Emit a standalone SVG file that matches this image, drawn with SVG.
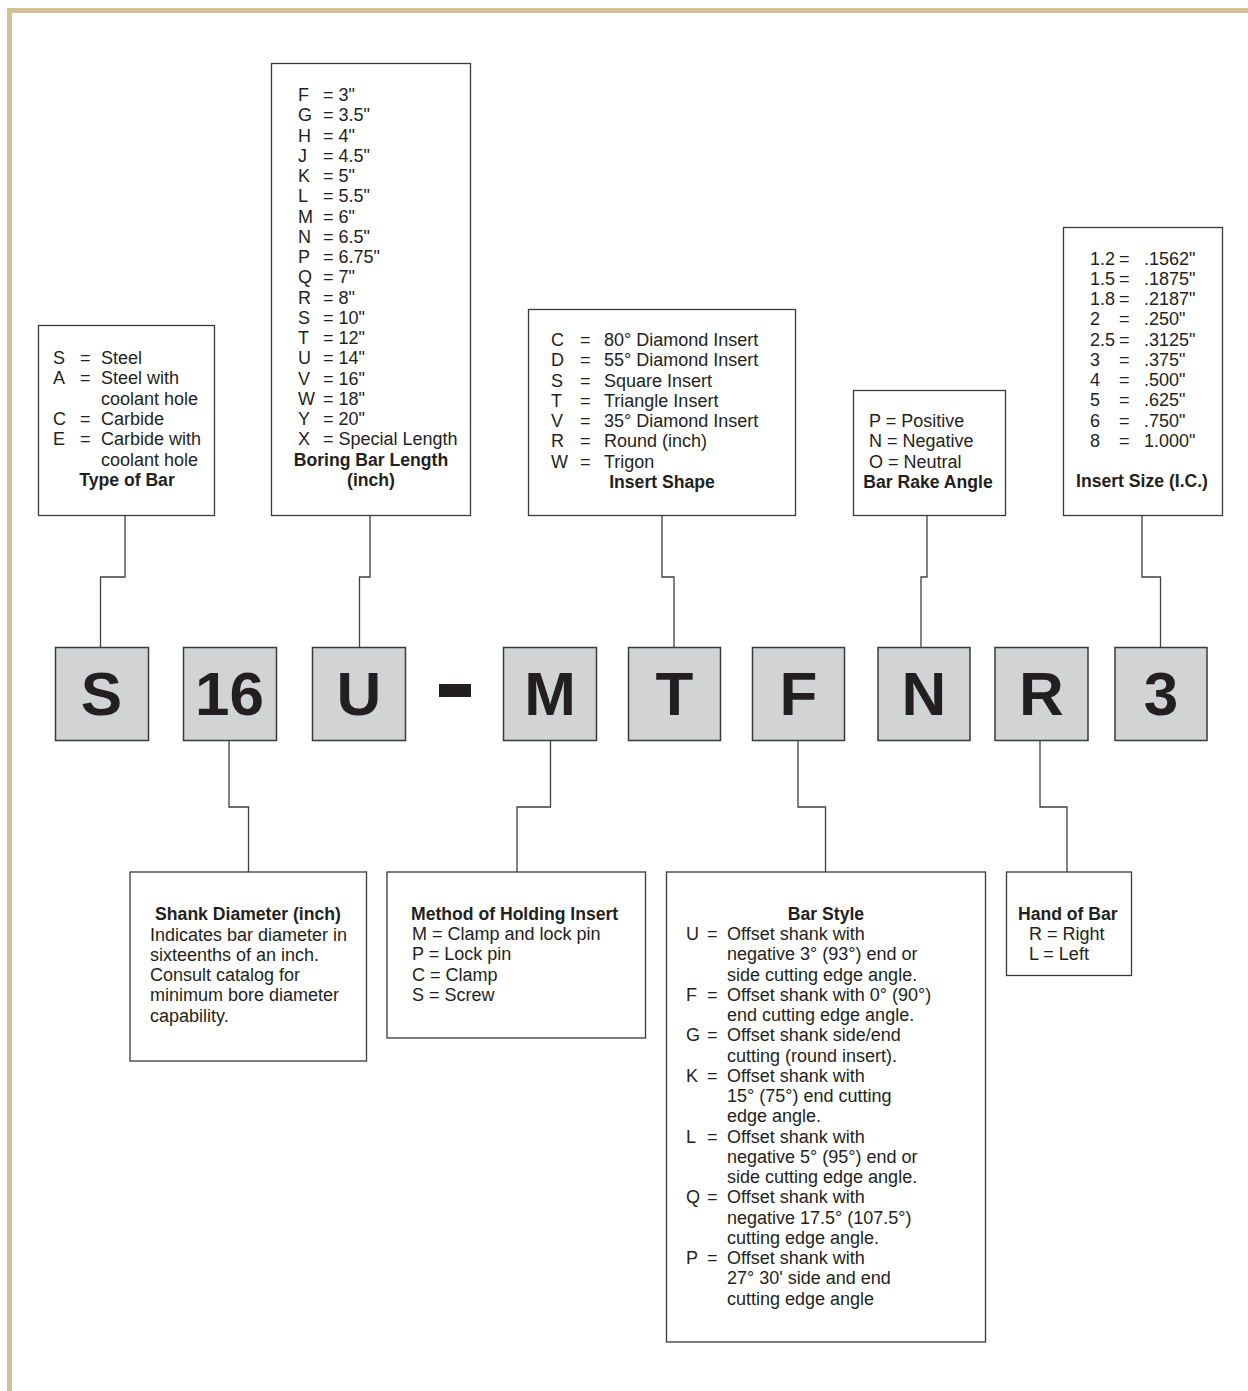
<svg xmlns="http://www.w3.org/2000/svg" width="1248" height="1391" viewBox="0 0 1248 1391">
<style>
text{font-family:"Liberation Sans",Arial,Helvetica,sans-serif;fill:#231f20}
.t{font-size:18px}
.b{font-size:17.6px;font-weight:bold}
.c{text-anchor:middle}
.box{fill:#fff;stroke:#3a3a3a;stroke-width:1.3}
.code{fill:#d1d3d4;stroke:#3a3a3a;stroke-width:1.5}
.big{font-size:62px;font-weight:bold;text-anchor:middle}
.ln{fill:none;stroke:#3f3f3f;stroke-width:1.3}
</style>
<rect x="0" y="0" width="1248" height="1391" fill="#fff"/>
<rect x="7" y="8" width="1241" height="5" fill="#d3c195"/>
<rect x="7" y="8" width="5" height="1383" fill="#d3c195"/>

<g id="connectors">
<polyline class="ln" points="125,515 125,577 100.5,577 100.5,647"/>
<polyline class="ln" points="370,515 370,577 359.5,577 359.5,647"/>
<polyline class="ln" points="662,515 662,577 674,577 674,647"/>
<polyline class="ln" points="927,515 927,577 921,577 921,647"/>
<polyline class="ln" points="1142,515 1142,577 1160.5,577 1160.5,647"/>
<polyline class="ln" points="229,740 229,807 248.5,807 248.5,872"/>
<polyline class="ln" points="550.5,740 550.5,807 517,807 517,872"/>
<polyline class="ln" points="798,740 798,807 825.5,807 825.5,872"/>
<polyline class="ln" points="1040,740 1040,807 1067,807 1067,872"/>
</g>

<g id="type-of-bar">
<rect class="box" x="38.5" y="325.5" width="176" height="190"/>
<text class="t" x="53" y="364">S</text><text class="t" x="80" y="364">=</text><text class="t" x="101" y="364">Steel</text>
<text class="t" x="53" y="384.3">A</text><text class="t" x="80" y="384.3">=</text><text class="t" x="101" y="384.3">Steel with</text>
<text class="t" x="101" y="404.6">coolant hole</text>
<text class="t" x="53" y="424.9">C</text><text class="t" x="80" y="424.9">=</text><text class="t" x="101" y="424.9">Carbide</text>
<text class="t" x="53" y="445.2">E</text><text class="t" x="80" y="445.2">=</text><text class="t" x="101" y="445.2">Carbide with</text>
<text class="t" x="101" y="465.5">coolant hole</text>
<text class="b c" x="127" y="485.8">Type of Bar</text>
</g>

<g id="boring-bar-length">
<rect class="box" x="271.5" y="63.5" width="199" height="452"/>
<text class="t" x="298" y="101">F</text><text class="t" x="323" y="101">= 3"</text>
<text class="t" x="298" y="121.25">G</text><text class="t" x="323" y="121.25">= 3.5"</text>
<text class="t" x="298" y="141.5">H</text><text class="t" x="323" y="141.5">= 4"</text>
<text class="t" x="298" y="161.75">J</text><text class="t" x="323" y="161.75">= 4.5"</text>
<text class="t" x="298" y="182">K</text><text class="t" x="323" y="182">= 5"</text>
<text class="t" x="298" y="202.25">L</text><text class="t" x="323" y="202.25">= 5.5"</text>
<text class="t" x="298" y="222.5">M</text><text class="t" x="323" y="222.5">= 6"</text>
<text class="t" x="298" y="242.75">N</text><text class="t" x="323" y="242.75">= 6.5"</text>
<text class="t" x="298" y="263">P</text><text class="t" x="323" y="263">= 6.75"</text>
<text class="t" x="298" y="283.25">Q</text><text class="t" x="323" y="283.25">= 7"</text>
<text class="t" x="298" y="303.5">R</text><text class="t" x="323" y="303.5">= 8"</text>
<text class="t" x="298" y="323.75">S</text><text class="t" x="323" y="323.75">= 10"</text>
<text class="t" x="298" y="344">T</text><text class="t" x="323" y="344">= 12"</text>
<text class="t" x="298" y="364.25">U</text><text class="t" x="323" y="364.25">= 14"</text>
<text class="t" x="298" y="384.5">V</text><text class="t" x="323" y="384.5">= 16"</text>
<text class="t" x="298" y="404.75">W</text><text class="t" x="323" y="404.75">= 18"</text>
<text class="t" x="298" y="425">Y</text><text class="t" x="323" y="425">= 20"</text>
<text class="t" x="298" y="445.25">X</text><text class="t" x="323" y="445.25">= Special Length</text>
<text class="b c" x="371" y="465.5">Boring Bar Length</text>
<text class="b c" x="371" y="485.75">(inch)</text>
</g>

<g id="insert-shape">
<rect class="box" x="528.5" y="309.5" width="267" height="206"/>
<text class="t" x="551" y="346">C</text><text class="t" x="580" y="346">=</text><text class="t" x="604" y="346">80° Diamond Insert</text>
<text class="t" x="551" y="366.25">D</text><text class="t" x="580" y="366.25">=</text><text class="t" x="604" y="366.25">55° Diamond Insert</text>
<text class="t" x="551" y="386.5">S</text><text class="t" x="580" y="386.5">=</text><text class="t" x="604" y="386.5">Square Insert</text>
<text class="t" x="551" y="406.75">T</text><text class="t" x="580" y="406.75">=</text><text class="t" x="604" y="406.75">Triangle Insert</text>
<text class="t" x="551" y="427">V</text><text class="t" x="580" y="427">=</text><text class="t" x="604" y="427">35° Diamond Insert</text>
<text class="t" x="551" y="447.25">R</text><text class="t" x="580" y="447.25">=</text><text class="t" x="604" y="447.25">Round (inch)</text>
<text class="t" x="551" y="467.5">W</text><text class="t" x="580" y="467.5">=</text><text class="t" x="604" y="467.5">Trigon</text>
<text class="b c" x="662" y="487.75">Insert Shape</text>
</g>

<g id="bar-rake-angle">
<rect class="box" x="853.5" y="390.5" width="152" height="125"/>
<text class="t" x="869" y="427">P = Positive</text>
<text class="t" x="869" y="447.25">N = Negative</text>
<text class="t" x="869" y="467.5">O = Neutral</text>
<text class="b c" x="928" y="487.75">Bar Rake Angle</text>
</g>

<g id="insert-size">
<rect class="box" x="1063.5" y="227.5" width="159" height="288"/>
<text class="t" x="1090" y="264.5">1.2</text><text class="t" x="1119" y="264.5">=</text><text class="t" x="1144" y="264.5">.1562"</text>
<text class="t" x="1090" y="284.75">1.5</text><text class="t" x="1119" y="284.75">=</text><text class="t" x="1144" y="284.75">.1875"</text>
<text class="t" x="1090" y="305">1.8</text><text class="t" x="1119" y="305">=</text><text class="t" x="1144" y="305">.2187"</text>
<text class="t" x="1090" y="325.25">2</text><text class="t" x="1119" y="325.25">=</text><text class="t" x="1144" y="325.25">.250"</text>
<text class="t" x="1090" y="345.5">2.5</text><text class="t" x="1119" y="345.5">=</text><text class="t" x="1144" y="345.5">.3125"</text>
<text class="t" x="1090" y="365.75">3</text><text class="t" x="1119" y="365.75">=</text><text class="t" x="1144" y="365.75">.375"</text>
<text class="t" x="1090" y="386">4</text><text class="t" x="1119" y="386">=</text><text class="t" x="1144" y="386">.500"</text>
<text class="t" x="1090" y="406.25">5</text><text class="t" x="1119" y="406.25">=</text><text class="t" x="1144" y="406.25">.625"</text>
<text class="t" x="1090" y="426.5">6</text><text class="t" x="1119" y="426.5">=</text><text class="t" x="1144" y="426.5">.750"</text>
<text class="t" x="1090" y="446.75">8</text><text class="t" x="1119" y="446.75">=</text><text class="t" x="1144" y="446.75">1.000"</text>
<text class="b c" x="1142" y="487.25">Insert Size (I.C.)</text>
</g>

<g id="code-S"><rect class="code" x="55.5" y="647.5" width="93" height="93"/><text class="big" x="101.5" y="714.5">S</text></g>
<g id="code-16"><rect class="code" x="183.5" y="647.5" width="93" height="93"/><text class="big" x="229.5" y="714.5">16</text></g>
<g id="code-U"><rect class="code" x="312.5" y="647.5" width="93" height="93"/><text class="big" x="359" y="714.5">U</text></g>
<g id="code-dash"><rect x="439" y="684" width="32" height="13" fill="#231f20"/></g>
<g id="code-M"><rect class="code" x="503.5" y="647.5" width="93" height="93"/><text class="big" x="550" y="714.5">M</text></g>
<g id="code-T"><rect class="code" x="628.5" y="647.5" width="92" height="93"/><text class="big" x="674.5" y="714.5">T</text></g>
<g id="code-F"><rect class="code" x="752.5" y="647.5" width="92" height="93"/><text class="big" x="798.5" y="714.5">F</text></g>
<g id="code-N"><rect class="code" x="878" y="647.5" width="92" height="93"/><text class="big" x="924" y="714.5">N</text></g>
<g id="code-R"><rect class="code" x="995" y="647.5" width="93" height="93"/><text class="big" x="1041.5" y="714.5">R</text></g>
<g id="code-3"><rect class="code" x="1115" y="647.5" width="92" height="93"/><text class="big" x="1161" y="714.5">3</text></g>

<g id="shank-diameter">
<rect class="box" x="130" y="872" width="236.5" height="189"/>
<text class="b c" x="248" y="920">Shank Diameter (inch)</text>
<text class="t" x="150" y="940.5">Indicates bar diameter in</text>
<text class="t" x="150" y="960.75">sixteenths of an inch.</text>
<text class="t" x="150" y="981">Consult catalog for</text>
<text class="t" x="150" y="1001.25">minimum bore diameter</text>
<text class="t" x="150" y="1021.5">capability.</text>
</g>

<g id="method-of-holding">
<rect class="box" x="387" y="872" width="258.5" height="166"/>
<text class="b" x="411" y="919.5">Method of Holding Insert</text>
<text class="t" x="412" y="940">M = Clamp and lock pin</text>
<text class="t" x="412" y="960.25">P = Lock pin</text>
<text class="t" x="412" y="980.5">C = Clamp</text>
<text class="t" x="412" y="1000.75">S = Screw</text>
</g>

<g id="bar-style">
<rect class="box" x="666.5" y="872" width="319" height="470"/>
<text class="b c" x="826" y="919.5">Bar Style</text>
<text class="t" x="686" y="940">U</text><text class="t" x="707" y="940">=</text><text class="t" x="727" y="940">Offset shank with</text>
<text class="t" x="727" y="960.25">negative 3° (93°) end or</text>
<text class="t" x="727" y="980.5">side cutting edge angle.</text>
<text class="t" x="686" y="1000.75">F</text><text class="t" x="707" y="1000.75">=</text><text class="t" x="727" y="1000.75">Offset shank with 0° (90°)</text>
<text class="t" x="727" y="1021">end cutting edge angle.</text>
<text class="t" x="686" y="1041.25">G</text><text class="t" x="707" y="1041.25">=</text><text class="t" x="727" y="1041.25">Offset shank side/end</text>
<text class="t" x="727" y="1061.5">cutting (round insert).</text>
<text class="t" x="686" y="1081.75">K</text><text class="t" x="707" y="1081.75">=</text><text class="t" x="727" y="1081.75">Offset shank with</text>
<text class="t" x="727" y="1102">15° (75°) end cutting</text>
<text class="t" x="727" y="1122.25">edge angle.</text>
<text class="t" x="686" y="1142.5">L</text><text class="t" x="707" y="1142.5">=</text><text class="t" x="727" y="1142.5">Offset shank with</text>
<text class="t" x="727" y="1162.75">negative 5° (95°) end or</text>
<text class="t" x="727" y="1183">side cutting edge angle.</text>
<text class="t" x="686" y="1203.25">Q</text><text class="t" x="707" y="1203.25">=</text><text class="t" x="727" y="1203.25">Offset shank with</text>
<text class="t" x="727" y="1223.5">negative 17.5° (107.5°)</text>
<text class="t" x="727" y="1243.75">cutting edge angle.</text>
<text class="t" x="686" y="1264">P</text><text class="t" x="707" y="1264">=</text><text class="t" x="727" y="1264">Offset shank with</text>
<text class="t" x="727" y="1284.25">27° 30' side and end</text>
<text class="t" x="727" y="1304.5">cutting edge angle</text>
</g>

<g id="hand-of-bar">
<rect class="box" x="1006.5" y="872" width="125" height="103.5"/>
<text class="b" x="1018" y="919.5">Hand of Bar</text>
<text class="t" x="1029" y="940">R = Right</text>
<text class="t" x="1029" y="960.25">L = Left</text>
</g>
</svg>
